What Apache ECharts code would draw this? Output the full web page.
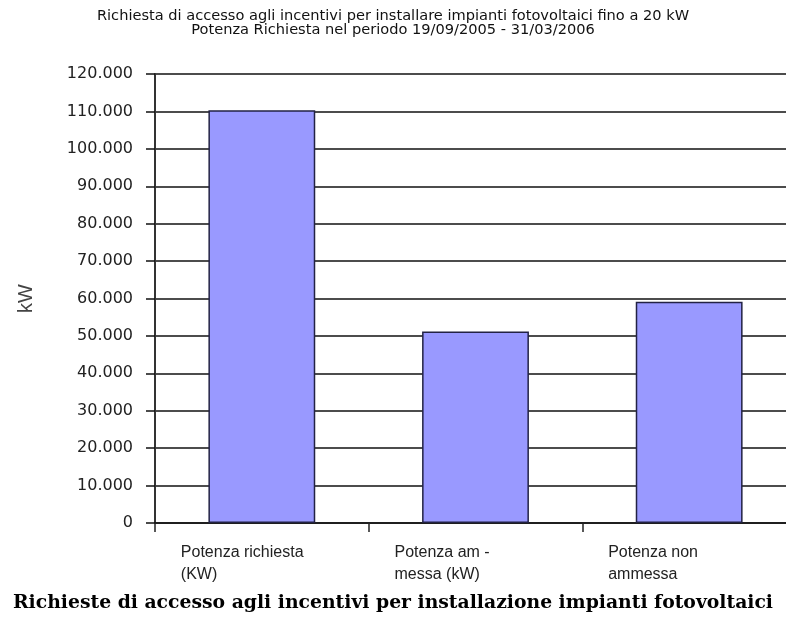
<!DOCTYPE html>
<html>
<head>
<meta charset="utf-8">
<script src="https://cdn.jsdelivr.net/npm/echarts@6/dist/echarts.min.js"></script>
<style>
  html, body { margin: 0; padding: 0; background: #fff; overflow: hidden; }
  /* canvas is slightly wider than the window so the plot runs off the right edge */
  #chart { width: 796px; height: 619px; }
</style>
</head>
<body>
<div id="chart"></div>
<script>
// Categories and requested power values (kW)
const categories = ['Potenza richiesta\n(KW)', 'Potenza am -\nmessa (kW)', 'Potenza non\nammessa'];
const potenza = [110300, 51200, 59100];
const titleLines = [
  'Richiesta di accesso agli incentivi per installare impianti fotovoltaici fino a 20 kW',
  'Potenza Richiesta nel periodo 19/09/2005 - 31/03/2006'
];
const caption = 'Richieste di accesso agli incentivi per installazione impianti fotovoltaici';
const yName = 'kW';

// Italian thousands separator: 120000 -> 120.000
function fmt(v) {
  return String(v).replace(/\B(?=(\d{3})+(?!\d))/g, '.');
}

const chart = echarts.init(document.getElementById('chart'));
chart.setOption({
  animation: false,
  backgroundColor: '#ffffff',
  // headings are centred on the visible page width, not the wider canvas
  graphic: [
    {
      type: 'text',
      x: 393,
      y: 23,
      style: {
        text: titleLines.join('\n'),
        align: 'center',
        verticalAlign: 'middle',
        font: '14.6px "DejaVu Sans", sans-serif',
        lineHeight: 13.5,
        fill: '#111'
      }
    },
    {
      type: 'text',
      x: 393,
      y: 603,
      style: {
        text: caption,
        align: 'center',
        verticalAlign: 'middle',
        font: 'bold 18.8px "DejaVu Serif", serif',
        fill: '#000'
      }
    }
  ],
  grid: { left: 155, top: 74, right: 0, bottom: 96, containLabel: false },
  xAxis: {
    type: 'category',
    data: categories,
    axisLine: { lineStyle: { color: '#111', width: 1.5 } },
    axisTick: { show: true, length: 9, lineStyle: { color: '#222', width: 1.5 } },
    axisLabel: {
      margin: 19,
      formatter: function (v) {
        return v.split('\n').map(function (s) { return '{a|' + s + '}'; }).join('\n');
      },
      rich: {
        a: { width: 162, align: 'left', fontFamily: 'Liberation Sans, Arial, sans-serif', fontSize: 16, color: '#222', lineHeight: 22 }
      }
    }
  },
  yAxis: {
    type: 'value',
    min: 0,
    max: 120000,
    interval: 10000,
    name: yName,
    nameLocation: 'middle',
    nameGap: 119,
    nameRotate: 90,
    nameTextStyle: { fontFamily: 'Liberation Sans, Arial, sans-serif', fontSize: 20, color: '#444' },
    axisLine: { show: true, lineStyle: { color: '#333', width: 2 } },
    axisTick: { show: true, length: 9, lineStyle: { color: '#111', width: 1.5 } },
    axisLabel: {
      margin: 22,
      formatter: fmt,
      fontFamily: 'DejaVu Sans, sans-serif',
      fontSize: 16,
      color: '#222'
    },
    splitLine: { show: true, lineStyle: { color: '#111', width: 1.5 } }
  },
  series: [{
    type: 'bar',
    data: potenza,
    barWidth: '50%',
    itemStyle: { color: '#9999ff', borderColor: '#222244', borderWidth: 1.5 }
  }]
});
</script>
</body>
</html>
